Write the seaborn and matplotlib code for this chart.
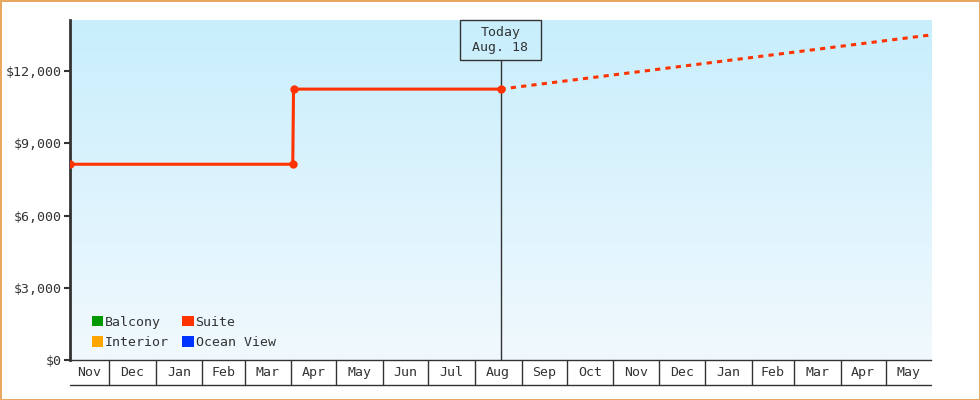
import numpy as np
import pandas as pd
import matplotlib
matplotlib.use("Agg")
import matplotlib.pyplot as plt
import matplotlib.transforms as mtransforms
from matplotlib.patches import Rectangle, Patch
from matplotlib.colors import LinearSegmentedColormap
import seaborn as sns

# ---------------- data ----------------
actual_dates = ["2024-11-05 00:00", "2025-04-02 00:00", "2025-04-02 12:00", "2025-08-18 00:00"]
suite_actual = [8130, 8130, 11250, 11250]
proj_dates = ["2025-08-18 00:00", "2026-05-31 00:00"]
suite_proj = [11250, 13500]
today_date = "2025-08-18"
today_label = "Today\nAug. 18"
x_start = "2024-11-05"
x_end = "2026-05-31"
month_starts = ["2024-12-01", "2025-01-01", "2025-02-01", "2025-03-01", "2025-04-01",
                "2025-05-01", "2025-06-01", "2025-07-01", "2025-08-01", "2025-09-01",
                "2025-10-01", "2025-11-01", "2025-12-01", "2026-01-01", "2026-02-01",
                "2026-03-01", "2026-04-01", "2026-05-01"]
month_labels = ["Nov", "Dec", "Jan", "Feb", "Mar", "Apr", "May", "Jun", "Jul", "Aug",
                "Sep", "Oct", "Nov", "Dec", "Jan", "Feb", "Mar", "Apr", "May"]
y_ticks = [0, 3000, 6000, 9000, 12000]
y_max = 14120
legend_names = ["Balcony", "Interior", "Suite", "Ocean View"]
legend_colors = ["#009900", "#ffa500", "#ff3300", "#0033ff"]

# ---------------- style ----------------
sns.set_style("white")
plt.rcParams["font.family"] = ["DejaVu Sans Mono", "DejaVu Sans"]
TXT = "#333333"
RED = "#ff3300"
FS = 9.5

W, H = 980, 400
fig = plt.figure(figsize=(W / 100, H / 100), dpi=100)
fig.patch.set_facecolor("white")
fig.patch.set_edgecolor("#e8a862")
fig.patch.set_linewidth(2)

L, R, B, T = 70, 931, 360, 20
pos = [L / W, 1 - B / H, (R - L) / W, (B - T) / H]

# gradient background
bg = fig.add_axes(pos, zorder=0)
grad = np.linspace(0, 1, 256).reshape(-1, 1)
cmap = LinearSegmentedColormap.from_list("bg", ["#c8eefc", "#f1f9fe"])
bg.imshow(grad, aspect="auto", cmap=cmap, extent=[0, 1, 0, 1], origin="upper")
bg.set_axis_off()

ax = fig.add_axes(pos, zorder=1)
ax.patch.set_alpha(0)

df_a = pd.DataFrame({"date": pd.to_datetime(actual_dates, format="%Y-%m-%d %H:%M"),
                     "price": suite_actual})
df_p = pd.DataFrame({"date": pd.to_datetime(proj_dates, format="%Y-%m-%d %H:%M"),
                     "price": suite_proj})

sns.lineplot(data=df_p, x="date", y="price", ax=ax, color=RED, lw=2.2,
             linestyle=(0, (1.7, 1.7)), estimator=None, sort=False, zorder=3)
sns.lineplot(data=df_a, x="date", y="price", ax=ax, color=RED, lw=2.2,
             estimator=None, sort=False, marker="o", markersize=6,
             markeredgewidth=0, zorder=4)

x0, x1 = pd.Timestamp(x_start), pd.Timestamp(x_end)
ax.set_xlim(x0, x1)
ax.set_ylim(0, y_max)

# y axis
ax.set_yticks(y_ticks)
ax.set_yticklabels([f"${v:,.0f}" for v in y_ticks], fontsize=FS, color=TXT)
ax.tick_params(axis="y", direction="out", length=4, width=1.5, color=TXT, pad=2, left=True)
ax.set_xticks([])
ax.set_xlabel("")
ax.set_ylabel("")
for s in ["top", "right"]:
    ax.spines[s].set_visible(False)
ax.spines["left"].set_color(TXT)
ax.spines["left"].set_linewidth(2)
ax.spines["bottom"].set_color(TXT)
ax.spines["bottom"].set_linewidth(1)

# month cells below axis
tr = mtransforms.blended_transform_factory(ax.transData, ax.transAxes)
cell_h = 25 / (B - T)
ms = [pd.Timestamp(m) for m in month_starts]
for m in ms:
    ax.plot([m, m], [0, -cell_h], transform=tr, color=TXT, lw=1, clip_on=False)
ax.plot([x0, x1], [-cell_h, -cell_h], transform=tr, color=TXT, lw=1, clip_on=False)
edges = [x0] + ms + [x1]
for i, lab in enumerate(month_labels):
    c = edges[i] + (edges[i + 1] - edges[i]) / 2
    ax.text(c, -cell_h / 2, lab, transform=tr, ha="center", va="center",
            fontsize=FS, color=TXT)

# today marker
td = pd.Timestamp(today_date)
box_h = 40 / (B - T)
half_w = pd.Timedelta(days=40 / 1.5037)
ax.plot([td, td], [0, 1 - box_h], transform=tr, color=TXT, lw=1, zorder=2)
ax.add_patch(Rectangle((td - half_w, 1 - box_h), 2 * half_w, box_h, transform=tr,
                       facecolor="none", edgecolor=TXT, lw=1, clip_on=False, zorder=5))
ax.text(td, 1 - box_h / 2, today_label, transform=tr, ha="center", va="center",
        fontsize=FS, color=TXT, linespacing=1.25, zorder=6)

# legend
handles = [Patch(facecolor=c, edgecolor="none") for c in legend_colors]
leg = ax.legend(handles, legend_names, ncol=2, loc="lower left",
                bbox_to_anchor=((92 - L) / (R - L), (B - 349) / (B - T)),
                frameon=False, fontsize=FS, handlelength=0.85, handleheight=0.85,
                handletextpad=0.15, columnspacing=1.0, labelspacing=0.55,
                borderpad=0, borderaxespad=0)
for t in leg.get_texts():
    t.set_color(TXT)

fig.savefig("out.png", dpi=100, facecolor=fig.get_facecolor(),
            edgecolor=fig.get_edgecolor())
